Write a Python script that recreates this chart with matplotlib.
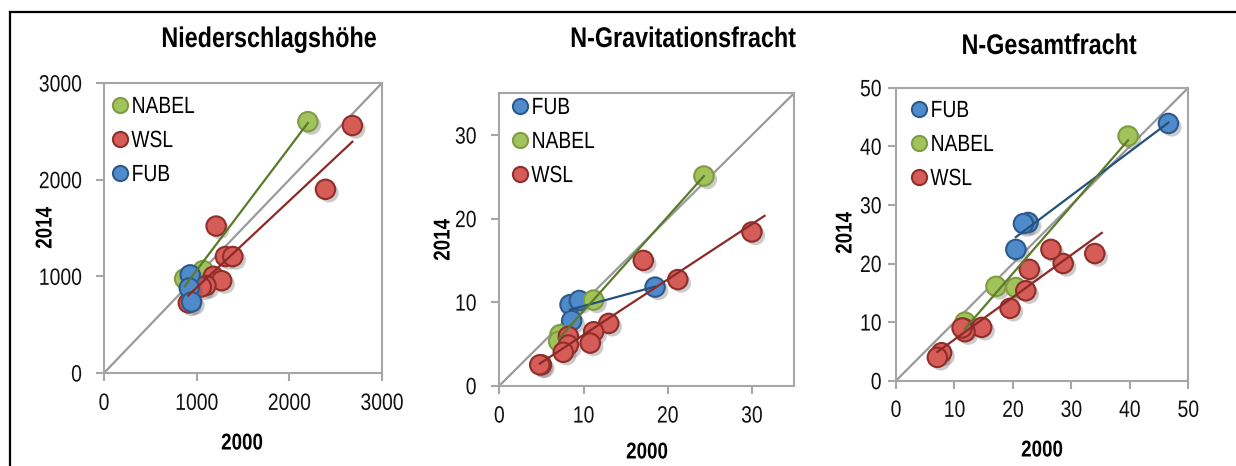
import numpy as np
import matplotlib
matplotlib.use("Agg")
import matplotlib.pyplot as plt
from matplotlib.lines import Line2D
from matplotlib.transforms import Affine2D
import matplotlib.patheffects as pe

plt.rcParams['font.family'] = ['Liberation Sans', 'DejaVu Sans']

W, H = 1236, 466

# ---------------- data ----------------
titles = ["Niederschlagshöhe", "N-Gravitationsfracht", "N-Gesamtfracht"]
xlabel = "2000"
ylabel = "2014"

# Panel 1: Niederschlagshöhe
p1_nabel_x = [870, 1070, 2200]
p1_nabel_y = [975, 1060, 2600]
p1_wsl_x = [2680, 2390, 1210, 1310, 1390, 1180, 1270, 1100, 1050, 910]
p1_wsl_y = [2560, 1900, 1520, 1205, 1205, 1000, 955, 905, 890, 725]
p1_fub_x = [930, 920, 945]
p1_fub_y = [1015, 880, 735]

# Panel 2: N-Gravitationsfracht
p2_fub_x = [18.5, 8.4, 9.5, 8.6]
p2_fub_y = [11.8, 9.7, 10.2, 7.8]
p2_nabel_x = [24.3, 11.2, 7.2, 7.05]
p2_nabel_y = [25.1, 10.25, 6.1, 5.3]
p2_wsl_x = [30.0, 21.2, 17.1, 13.0, 11.2, 10.8, 8.2, 8.2, 7.6, 5.0, 4.8]
p2_wsl_y = [18.4, 12.7, 15.0, 7.46, 6.46, 5.1, 5.9, 4.87, 4.0, 2.5, 2.5]

# Panel 3: N-Gesamtfracht
p3_fub_x = [46.6, 22.6, 21.8, 20.5]
p3_fub_y = [43.9, 27.0, 26.8, 22.4]
p3_nabel_x = [39.7, 17.1, 20.5, 11.8]
p3_nabel_y = [41.75, 16.1, 15.9, 10.0]
p3_wsl_x = [34.0, 28.6, 26.5, 22.8, 22.2, 19.5, 14.66, 11.6, 11.8, 11.3, 7.8, 7.07]
p3_wsl_y = [21.7, 20.0, 22.4, 19.0, 15.35, 12.35, 9.1, 8.93, 8.36, 9.0, 4.78, 3.98]

axis_max = [3000, 35, 50]
ticks = [[0, 1000, 2000, 3000], [0, 10, 20, 30], [0, 10, 20, 30, 40, 50]]

# series per panel: (name, x, y, trendline?, forward extension)
panels = [
    [("NABEL", p1_nabel_x, p1_nabel_y, True, 0),
     ("WSL", p1_wsl_x, p1_wsl_y, True, 0),
     ("FUB", p1_fub_x, p1_fub_y, False, 0)],
    [("FUB", p2_fub_x, p2_fub_y, True, 0),
     ("NABEL", p2_nabel_x, p2_nabel_y, True, 0),
     ("WSL", p2_wsl_x, p2_wsl_y, True, 1.5)],
    [("FUB", p3_fub_x, p3_fub_y, True, 0),
     ("NABEL", p3_nabel_x, p3_nabel_y, True, 0),
     ("WSL", p3_wsl_x, p3_wsl_y, True, 1.2)],
]

# ---------------- styles ----------------
fill = {"NABEL": "#A2C35C", "WSL": "#D55C57", "FUB": "#4F8ACB"}
edge = {"NABEL": "#7E9C43", "WSL": "#8F2E2B", "FUB": "#2D5A8C"}
trend = {"NABEL": "#5B7A2A", "WSL": "#8B2A27", "FUB": "#24507E"}
grey = "#A6A6A6"
SQ = 0.82  # horizontal squeeze to mimic a narrow typeface


class Squeeze(pe.AbstractPathEffect):
    """Draw text glyphs narrower along the text direction (narrow font look)."""

    def __init__(self, sx=SQ, anchor="center"):
        super().__init__()
        self.sx = sx
        self.anchor = anchor

    def draw_path(self, renderer, gc, tpath, affine, rgbFace=None):
        ext = tpath.get_extents()
        a = {"left": ext.x0, "center": 0.5 * (ext.x0 + ext.x1), "right": ext.x1}[self.anchor]
        t = Affine2D().translate(-a, 0).scale(self.sx, 1).translate(a, 0) + affine
        renderer.draw_path(gc, tpath, t, rgbFace)


# axes boxes in pixels: left, top, right, bottom
boxes = [(104, 83, 382, 373), (499.3, 93.3, 794, 385.7), (896, 87.7, 1188.3, 380.7)]
ypad = [10, 10.5, 4.5]
xpad = [8.5, 8.5, 8.0]
title_pos = [(269, 40), (683, 40), (1049, 47)]
ylab_pos = [(45, 228), (443, 240), (845, 233)]
xlab_pos = [(242, 443), (647, 452), (1042, 450)]
leg_anchor = [(113, 95), (513, 96), (912, 99)]

fig = plt.figure(figsize=(W / 100, H / 100), dpi=100)


def fx(x):
    return x / W


def fy(y):
    return 1 - y / H


shadow = [pe.SimplePatchShadow(offset=(2.5, -2.5), shadow_rgbFace="#555555", alpha=0.3), pe.Normal()]

for i, series in enumerate(panels):
    l, t, r, b = boxes[i]
    ax = fig.add_axes([fx(l), fy(b), (r - l) / W, (b - t) / H])
    m = axis_max[i]
    ax.set_xlim(0, m)
    ax.set_ylim(0, m)
    ax.plot([0, m], [0, m], color="#9A9A9A", lw=1.6, zorder=1, solid_capstyle="butt")
    handles = []
    for k, (name, xs, ys, has_trend, fwd) in enumerate(series):
        h, = ax.plot(xs, ys, linestyle="none", marker="o", markersize=14,
                     markerfacecolor=fill[name], markeredgecolor=edge[name],
                     markeredgewidth=1.5, zorder=2 + k, label=name,
                     path_effects=shadow)
        handles.append(h)
    for name, xs, ys, has_trend, fwd in series:
        if has_trend:
            a, c = np.polyfit(xs, ys, 1)
            x0, x1 = min(xs), max(xs) + fwd
            ax.plot([x0, x1], [a * x0 + c, a * x1 + c], color=trend[name], lw=1.6, zorder=10)
    for s in ax.spines.values():
        s.set_color(grey)
        s.set_linewidth(1.5)
    ax.set_xticks(ticks[i])
    ax.set_yticks(ticks[i])
    ax.tick_params(axis="both", direction="out", length=5.8, width=1.5, color=grey,
                   labelsize=17, labelcolor="#111111")
    ax.tick_params(axis="y", pad=ypad[i])
    ax.tick_params(axis="x", pad=xpad[i])
    for lbl in ax.get_xticklabels():
        lbl.set_path_effects([Squeeze(anchor="center")])
    for lbl in ax.get_yticklabels():
        lbl.set_path_effects([Squeeze(anchor="right")])
    lx, ly = leg_anchor[i]
    ax_w, ax_h = r - l, b - t
    leg = ax.legend(handles=handles, loc="upper left",
                    bbox_to_anchor=((lx - l) / ax_w, 1 - (ly - t) / ax_h),
                    frameon=False, prop={"size": 16.9}, markerscale=0.78,
                    handlelength=0.6, handletextpad=0.18, labelspacing=0.47,
                    borderaxespad=0, borderpad=0)
    for lh in leg.legend_handles:
        lh.set_path_effects([])
    for txt in leg.get_texts():
        txt.set_path_effects([Squeeze(anchor="left")])
    fig.text(fx(title_pos[i][0]), fy(title_pos[i][1]), titles[i], fontsize=20.5,
             fontweight="bold", ha="center", va="center",
             path_effects=[Squeeze(anchor="center")])
    fig.text(fx(ylab_pos[i][0]), fy(ylab_pos[i][1]), ylabel, fontsize=16.5,
             fontweight="bold", ha="center", va="center", rotation=90,
             path_effects=[Squeeze(anchor="center")])
    fig.text(fx(xlab_pos[i][0]), fy(xlab_pos[i][1]), xlabel, fontsize=16.5,
             fontweight="bold", ha="center", va="center",
             path_effects=[Squeeze(anchor="center")])

# outer frame (left and top edges)
fig.add_artist(Line2D([fx(10), fx(10)], [0, fy(12)], color="black", lw=1.6, transform=fig.transFigure))
fig.add_artist(Line2D([fx(10), 1], [fy(12), fy(12)], color="black", lw=1.6, transform=fig.transFigure))

fig.savefig("out.png", dpi=100)
